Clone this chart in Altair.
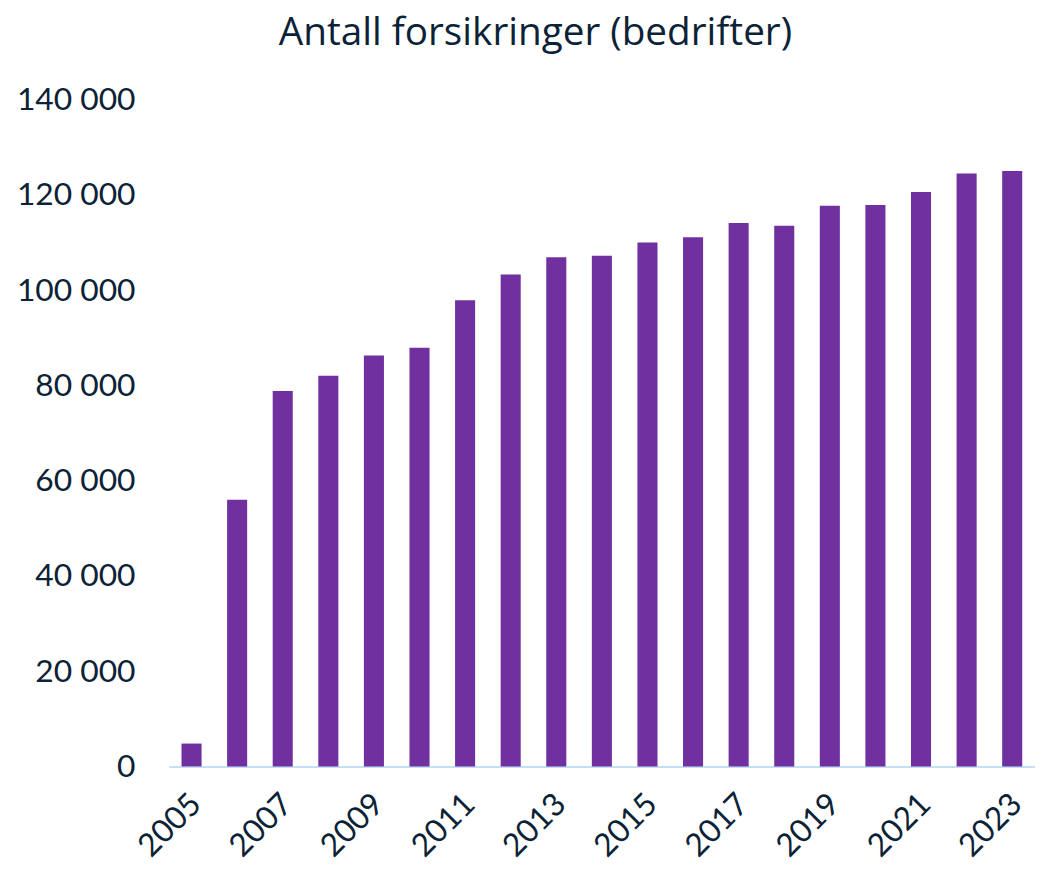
import altair as alt
import pandas as pd

years = [str(y) for y in range(2005, 2024)]
values = [4800, 56000, 78800, 82000, 86300, 87900, 97900, 103300, 106900, 107200,
          110000, 111100, 114100, 113500, 117700, 117850, 120600, 124500, 125000]
y_ticks = [0, 20000, 40000, 60000, 80000, 100000, 120000, 140000]
x_label_years = [str(y) for y in range(2005, 2024, 2)]

df = pd.DataFrame({"year": years, "value": values})

FONT = "Lato"
TEXT = "#0c2236"

chart = (
    alt.Chart(df)
    .mark_bar(color="#7030A0")
    .encode(
        x=alt.X(
            "year:N",
            sort=years,
            scale=alt.Scale(paddingInner=0.56, paddingOuter=0.28),
            axis=alt.Axis(
                title=None,
                values=x_label_years,
                labelAngle=-45,
                labelFont=FONT,
                labelFontSize=32,
                labelColor=TEXT,
                labelPadding=22,
                labelOffset=-6,
                ticks=False,
                domainColor="#c5e0f4",
                domainWidth=2,
                grid=False,
            ),
        ),
        y=alt.Y(
            "value:Q",
            scale=alt.Scale(domain=[0, 140000], nice=False),
            axis=alt.Axis(
                title=None,
                values=y_ticks,
                labelExpr="replace(format(datum.value, ',d'), ',', ' ')",
                labelFont=FONT,
                labelFontSize=32,
                labelColor=TEXT,
                labelPadding=34,
                ticks=False,
                domain=False,
                grid=False,
            ),
        ),
    )
    .properties(
        width=873,
        height=672,
        autosize=alt.AutoSizeParams(type="none"),
        padding={"left": 162, "top": 89, "right": 0, "bottom": 95},
        title=alt.TitleParams(
            "Antall forsikringer (bedrifter)",
            font="Open Sans",
            fontSize=39,
            fontWeight="normal",
            color=TEXT,
            anchor="middle",
            dx=-67,
            offset=31,
        ),
    )
    .configure_view(stroke=None)
)

chart.save("out.html", embed_options={"renderer": "svg", "actions": False})
